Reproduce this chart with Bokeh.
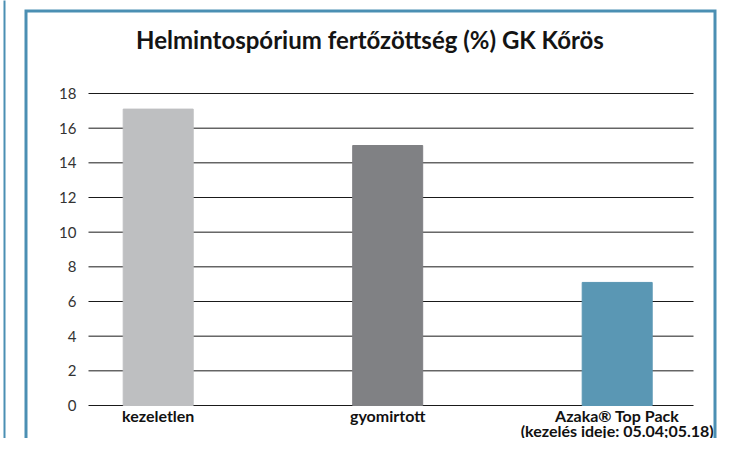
from bokeh.plotting import figure
from bokeh.models import Range1d, ColumnDataSource
from bokeh.core.properties import value
from bokeh.embed import file_html
from bokeh.resources import INLINE

# ---- data ----
title_text = "Helmintospórium fertőzöttség (%) GK Kőrös"
categories = ["kezeletlen", "gyomirtott", "Azaka® Top Pack\n(kezelés ideje: 05.04;05.18)"]
values = [17.1, 15.0, 7.1]
y_ticks = [0, 2, 4, 6, 8, 10, 12, 14, 16, 18]

# ---- styles / layout (pixels) ----
bar_colors = ["#bebfc1", "#808184", "#5a97b4"]
frame_blue = "#4b8fb3"
W, H = 718, 438
x0_px, dx_px = 157.7, 229.5          # pixel centre of first category, spacing
y0_px, dy_px = 405.0, 17.333         # pixel of value 0, pixels per unit
plot_left, plot_right = 88, 693
bar_w = 0.305

xs = list(range(len(categories)))
line1 = [c.split("\n")[0] for c in categories]
line2 = [c.split("\n")[1] if "\n" in c else "" for c in categories]

p = figure(
    width=W, height=H,
    x_range=Range1d(-x0_px / dx_px, (W - x0_px) / dx_px),
    y_range=Range1d(-(H - y0_px) / dy_px, y0_px / dy_px),
    x_axis_type=None, y_axis_type=None,
    output_backend="svg", toolbar_location=None,
    min_border=0,
)
p.extra_x_ranges = {"px": Range1d(0, W)}
p.extra_y_ranges = {"px": Range1d(H, 0)}
p.grid.visible = False
p.outline_line_color = None
p.background_fill_color = "white"
p.border_fill_color = "white"

# gridlines (through the value scale)
p.segment(x0=plot_left, x1=plot_right, y0=y_ticks, y1=y_ticks,
          x_range_name="px", line_color="#1a1a1a", line_width=1)

# bars
src = ColumnDataSource(dict(x=xs, top=values, color=bar_colors))
p.vbar(x="x", top="top", bottom=0, width=bar_w, color="color", source=src)

# y tick labels
p.text(x=76, y=y_ticks, text=[str(t) for t in y_ticks], x_range_name="px",
       text_align="right", text_baseline="middle",
       text_font=value("Lato"), text_font_size="15px", text_color="#333333")

# category labels
p.text(x=xs, y=414.5, text=line1, y_range_name="px",
       text_align="center", text_baseline="alphabetic",
       text_font=value("Lato"), text_font_style="bold",
       text_font_size="16px", text_color="#111111")
p.text(x=xs, y=429.5, text=line2, y_range_name="px",
       text_align="center", text_baseline="alphabetic",
       text_font=value("Lato"), text_font_style="bold",
       text_font_size="16px", text_color="#111111")

# title
p.text(x=[369.5], y=[38.5], text=[title_text], x_range_name="px", y_range_name="px",
       text_align="center", text_baseline="alphabetic",
       text_font=value("Lato"), text_font_style="bold",
       text_font_size="24px", text_color="#141414")

# blue panel frame (open at bottom, as cropped) and neighbouring panel edge
p.line(x=[25.5, 25.5, 714.5, 714.5], y=[H + 10, 10.5, 10.5, H + 10],
       x_range_name="px", y_range_name="px",
       line_color=frame_blue, line_width=3, line_join="miter")
p.line(x=[4, 4], y=[-10, H + 10], x_range_name="px", y_range_name="px",
       line_color=frame_blue, line_width=2)

open("out.html", "w").write(file_html(p, INLINE))
